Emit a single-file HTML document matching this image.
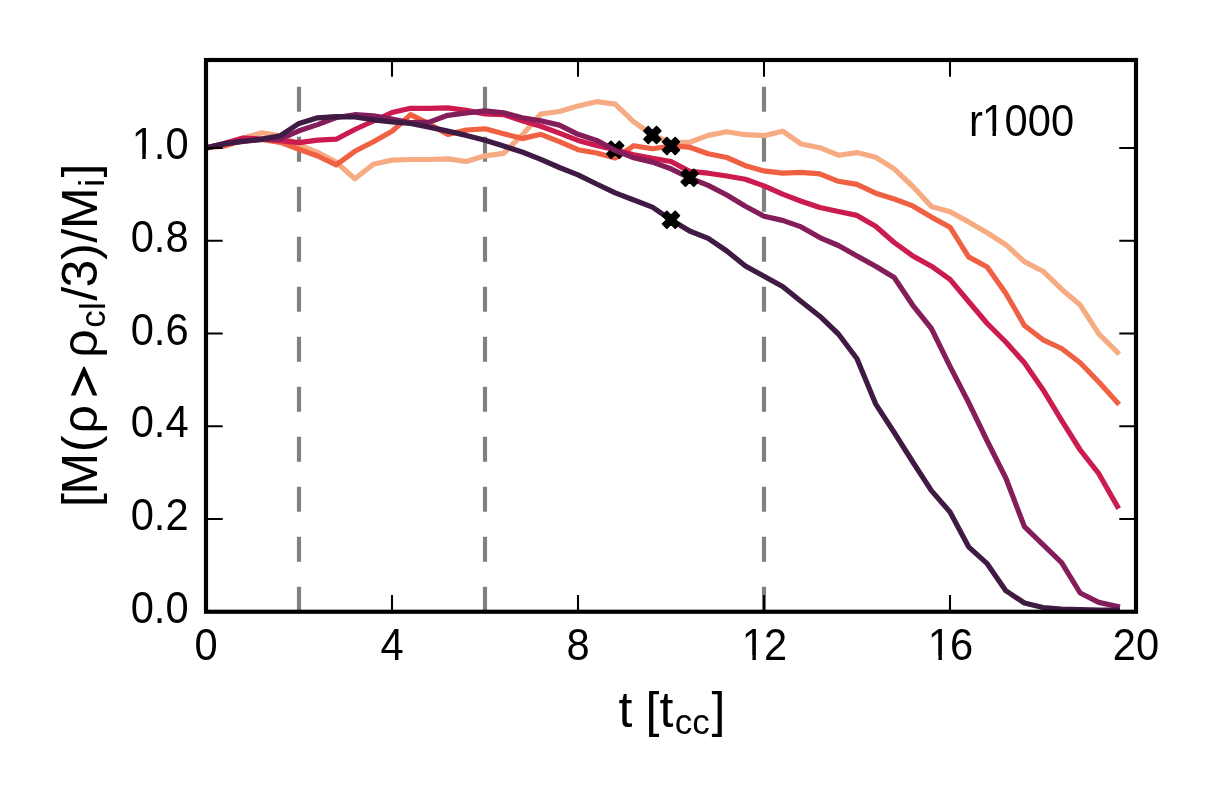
<!DOCTYPE html>
<html><head><meta charset="utf-8"><style>
html,body{margin:0;padding:0;background:#fff;}
svg{display:block;will-change:transform;}
text{font-family:"Liberation Sans",sans-serif;fill:#000;}
</style></head><body>
<svg width="1219" height="800" viewBox="0 0 1219 800">
<rect width="1219" height="800" fill="#fff"/>
<defs><clipPath id="ax"><rect x="206" y="60" width="930" height="551.75"/></clipPath><clipPath id="one"><rect x="-5" y="-50" width="40" height="45.4"/><rect x="10.6" y="-5" width="3.45" height="8"/></clipPath></defs>
<line x1="299.0" y1="611.75" x2="299.0" y2="60" stroke="#808080" stroke-width="4.17" stroke-dasharray="25 25"/>
<line x1="485.0" y1="611.75" x2="485.0" y2="60" stroke="#808080" stroke-width="4.17" stroke-dasharray="25 25"/>
<line x1="764.0" y1="611.75" x2="764.0" y2="60" stroke="#808080" stroke-width="4.17" stroke-dasharray="25 25"/>
<polyline clip-path="url(#ax)" points="206.0,148.0 224.6,144.0 243.2,138.0 261.8,132.8 280.4,135.7 299.0,144.9 317.6,152.3 336.2,162.1 354.8,178.8 373.4,164.2 392.0,160.1 410.6,159.5 429.2,159.5 447.8,158.9 466.4,161.5 485.0,155.8 503.6,153.4 522.2,134.9 540.8,114.0 559.4,111.5 578.0,106.0 596.6,101.7 615.2,104.1 633.8,121.9 652.4,135.0 671.0,142.8 689.6,142.2 708.2,135.4 726.8,131.8 745.4,134.7 764.0,135.7 782.6,131.2 801.2,144.0 819.8,147.7 838.4,155.2 857.0,152.6 875.6,157.2 894.2,168.9 912.8,186.5 931.4,206.4 950.0,211.8 968.6,221.9 987.2,232.7 1005.8,244.7 1024.4,261.6 1043.0,271.2 1061.6,289.2 1080.2,305.0 1098.8,333.8 1117.4,352.2" fill="none" stroke="#f6ab83" stroke-width="5.2" stroke-linejoin="round" stroke-linecap="square"/>
<polygon points="648.25,126.70 652.40,130.85 656.55,126.70 660.70,130.85 656.55,135.00 660.70,139.15 656.55,143.30 652.40,139.15 648.25,143.30 644.10,139.15 648.25,135.00 644.10,130.85" fill="#000" stroke="#000" stroke-width="1.9" stroke-linejoin="round"/>
<polyline clip-path="url(#ax)" points="206.0,148.0 224.6,146.0 243.2,140.0 261.8,139.4 280.4,142.4 299.0,149.2 317.6,156.0 336.2,164.8 354.8,151.3 373.4,141.8 392.0,131.3 410.6,114.7 429.2,123.9 447.8,134.4 466.4,130.0 485.0,128.8 503.6,133.7 522.2,138.6 540.8,134.3 559.4,141.7 578.0,149.7 596.6,153.0 615.2,158.1 633.8,145.7 652.4,148.8 671.0,146.0 689.6,147.2 708.2,153.7 726.8,157.5 745.4,165.7 764.0,170.9 782.6,173.2 801.2,172.4 819.8,173.9 838.4,181.3 857.0,184.4 875.6,193.2 894.2,199.0 912.8,205.9 931.4,217.1 950.0,227.2 968.6,256.9 987.2,267.0 1005.8,293.2 1024.4,325.5 1043.0,339.8 1061.6,348.5 1080.2,362.7 1098.8,382.0 1117.4,402.5" fill="none" stroke="#f06043" stroke-width="5.2" stroke-linejoin="round" stroke-linecap="square"/>
<polygon points="666.85,137.70 671.00,141.85 675.15,137.70 679.30,141.85 675.15,146.00 679.30,150.15 675.15,154.30 671.00,150.15 666.85,154.30 662.70,150.15 666.85,146.00 662.70,141.85" fill="#000" stroke="#000" stroke-width="1.9" stroke-linejoin="round"/>
<polyline clip-path="url(#ax)" points="206.0,148.0 224.6,143.3 243.2,138.1 261.8,139.0 280.4,140.6 299.0,142.6 317.6,140.2 336.2,139.2 354.8,129.5 373.4,121.0 392.0,112.5 410.6,108.3 429.2,108.3 447.8,107.9 466.4,110.4 485.0,114.0 503.6,114.6 522.2,120.8 540.8,126.3 559.4,133.1 578.0,140.4 596.6,145.4 615.2,149.8 633.8,154.7 652.4,158.4 671.0,161.5 689.6,171.4 708.2,173.2 726.8,176.0 745.4,179.2 764.0,185.9 782.6,194.1 801.2,201.2 819.8,207.5 838.4,211.5 857.0,215.4 875.6,226.2 894.2,242.5 912.8,255.9 931.4,266.2 950.0,279.3 968.6,301.5 987.2,323.5 1005.8,342.0 1024.4,362.7 1043.0,389.7 1061.6,420.4 1080.2,450.0 1098.8,473.7 1117.4,506.4" fill="none" stroke="#cb1b4f" stroke-width="5.2" stroke-linejoin="round" stroke-linecap="square"/>
<polygon points="611.05,141.50 615.20,145.65 619.35,141.50 623.50,145.65 619.35,149.80 623.50,153.95 619.35,158.10 615.20,153.95 611.05,158.10 606.90,153.95 611.05,149.80 606.90,145.65" fill="#000" stroke="#000" stroke-width="1.9" stroke-linejoin="round"/>
<polyline clip-path="url(#ax)" points="206.0,148.0 224.6,144.0 243.2,141.5 261.8,139.5 280.4,138.8 299.0,130.8 317.6,124.6 336.2,117.5 354.8,114.7 373.4,115.9 392.0,119.0 410.6,122.7 429.2,122.1 447.8,115.3 466.4,113.0 485.0,110.9 503.6,112.8 522.2,117.7 540.8,120.8 559.4,125.1 578.0,134.3 596.6,140.4 615.2,150.4 633.8,157.8 652.4,162.1 671.0,168.8 689.6,177.8 708.2,185.4 726.8,195.0 745.4,206.3 764.0,216.3 782.6,220.4 801.2,226.9 819.8,237.6 838.4,245.5 857.0,255.9 875.6,266.2 894.2,277.5 912.8,305.3 931.4,328.5 950.0,366.3 968.6,402.5 987.2,441.0 1005.8,478.0 1024.4,526.6 1043.0,544.6 1061.6,562.6 1080.2,593.0 1098.8,602.4 1117.4,606.4" fill="none" stroke="#841e5a" stroke-width="5.2" stroke-linejoin="round" stroke-linecap="square"/>
<polygon points="685.45,169.50 689.60,173.65 693.75,169.50 697.90,173.65 693.75,177.80 697.90,181.95 693.75,186.10 689.60,181.95 685.45,186.10 681.30,181.95 685.45,177.80 681.30,173.65" fill="#000" stroke="#000" stroke-width="1.9" stroke-linejoin="round"/>
<polyline clip-path="url(#ax)" points="206.0,148.0 224.6,143.7 243.2,141.2 261.8,139.1 280.4,135.7 299.0,123.4 317.6,117.8 336.2,116.6 354.8,117.0 373.4,119.8 392.0,121.8 410.6,123.5 429.2,127.1 447.8,131.1 466.4,135.4 485.0,140.3 503.6,146.0 522.2,152.0 540.8,159.3 559.4,167.5 578.0,174.9 596.6,184.0 615.2,192.9 633.8,200.0 652.4,207.2 671.0,219.8 689.6,231.0 708.2,238.3 726.8,251.0 745.4,266.0 764.0,276.3 782.6,286.6 801.2,301.6 819.8,316.2 838.4,334.0 857.0,358.8 875.6,403.8 894.2,432.5 912.8,462.0 931.4,490.6 950.0,512.0 968.6,546.8 987.2,563.7 1005.8,590.7 1024.4,603.0 1043.0,607.6 1061.6,609.1 1080.2,609.5 1098.8,610.0 1117.4,610.0" fill="none" stroke="#3f1b43" stroke-width="5.2" stroke-linejoin="round" stroke-linecap="square"/>
<polygon points="666.85,211.50 671.00,215.65 675.15,211.50 679.30,215.65 675.15,219.80 679.30,223.95 675.15,228.10 671.00,223.95 666.85,228.10 662.70,223.95 666.85,219.80 662.70,215.65" fill="#000" stroke="#000" stroke-width="1.9" stroke-linejoin="round"/>
<path d="M206.0,611.75v-16.7M206.0,60v16.7M392.0,611.75v-16.7M392.0,60v16.7M578.0,611.75v-16.7M578.0,60v16.7M764.0,611.75v-16.7M764.0,60v16.7M950.0,611.75v-16.7M950.0,60v16.7M1136.0,611.75v-16.7M1136.0,60v16.7M206,611.75h16.7M1136,611.75h-16.7M206,519.0h16.7M1136,519.0h-16.7M206,426.25h16.7M1136,426.25h-16.7M206,333.49999999999994h16.7M1136,333.49999999999994h-16.7M206,240.75h16.7M1136,240.75h-16.7M206,148.0h16.7M1136,148.0h-16.7" stroke="#000" stroke-width="2.08" fill="none"/>
<rect x="206" y="60" width="930" height="551.75" fill="none" stroke="#000" stroke-width="4.17" stroke-linejoin="miter"/>
<text transform="translate(130.68,622.75) scale(1,1.05)" font-size="41.67">0</text><text transform="translate(153.85,622.75) scale(1,1.05)" font-size="41.67">.</text><text transform="translate(165.43,622.75) scale(1,1.05)" font-size="41.67">0</text>
<text transform="translate(130.68,530.00) scale(1,1.05)" font-size="41.67">0</text><text transform="translate(153.85,530.00) scale(1,1.05)" font-size="41.67">.</text><text transform="translate(165.43,530.00) scale(1,1.05)" font-size="41.67">2</text>
<text transform="translate(130.68,437.25) scale(1,1.05)" font-size="41.67">0</text><text transform="translate(153.85,437.25) scale(1,1.05)" font-size="41.67">.</text><text transform="translate(165.43,437.25) scale(1,1.05)" font-size="41.67">4</text>
<text transform="translate(130.68,344.50) scale(1,1.05)" font-size="41.67">0</text><text transform="translate(153.85,344.50) scale(1,1.05)" font-size="41.67">.</text><text transform="translate(165.43,344.50) scale(1,1.05)" font-size="41.67">6</text>
<text transform="translate(130.68,251.75) scale(1,1.05)" font-size="41.67">0</text><text transform="translate(153.85,251.75) scale(1,1.05)" font-size="41.67">.</text><text transform="translate(165.43,251.75) scale(1,1.05)" font-size="41.67">8</text>
<text transform="translate(131.68,159.00) scale(1,1.05)" font-size="41.67" clip-path="url(#one)">1</text><text transform="translate(153.85,159.00) scale(1,1.05)" font-size="41.67">.</text><text transform="translate(165.43,159.00) scale(1,1.05)" font-size="41.67">0</text>
<text transform="translate(194.41,660.20) scale(1,1.05)" font-size="41.67">0</text>
<text transform="translate(380.42,660.20) scale(1,1.05)" font-size="41.67">4</text>
<text transform="translate(566.41,660.20) scale(1,1.05)" font-size="41.67">8</text>
<text transform="translate(741.83,660.20) scale(1,1.05)" font-size="41.67" clip-path="url(#one)">1</text><text transform="translate(764.00,660.20) scale(1,1.05)" font-size="41.67">2</text>
<text transform="translate(927.83,660.20) scale(1,1.05)" font-size="41.67" clip-path="url(#one)">1</text><text transform="translate(950.00,660.20) scale(1,1.05)" font-size="41.67">6</text>
<text transform="translate(1112.83,660.20) scale(1,1.05)" font-size="41.67">2</text><text transform="translate(1136.00,660.20) scale(1,1.05)" font-size="41.67">0</text>
<text transform="translate(969.00,135.90) scale(1,1.045)" font-size="41.67">r</text><text transform="translate(981.90,135.90) scale(1,1.045)" font-size="41.67" clip-path="url(#one)">1</text><text transform="translate(1004.55,135.90) scale(1,1.045)" font-size="41.67">0</text><text transform="translate(1027.72,135.90) scale(1,1.045)" font-size="41.67">0</text><text transform="translate(1050.89,135.90) scale(1,1.045)" font-size="41.67">0</text>
<text x="618.4" y="727.0" font-size="50">t</text>
<text x="645.4" y="727.0" font-size="50">[</text>
<text x="659.6" y="727.0" font-size="50">t</text>
<text x="674.65" y="734.3" font-size="35">cc</text>
<text x="711.4" y="727.0" font-size="50">]</text>
<g transform="translate(97.2,505) rotate(-90)"><text x="-2.1" y="0" font-size="50">[</text><text x="10.6" y="0" font-size="50">M</text><text x="53.1" y="0" font-size="50">(</text><text x="71.6" y="0" font-size="50">ρ</text><text x="147.2" y="0" font-size="50">ρ</text><text x="177.3" y="7.5" font-size="35">c</text><text x="194.9" y="7.5" font-size="35">l</text><text x="204.2" y="0" font-size="50">/</text><text x="217.4" y="0" font-size="50">3</text><text x="245.35" y="0" font-size="50">)</text><text x="262.2" y="0" font-size="50">/</text><text x="276" y="0" font-size="50">M</text><text x="318.2" y="7.0" font-size="35">i</text><text x="327.5" y="0" font-size="50">]</text></g>
<polygon points="70.8,395.4 83.3,366.8 84.8,366.8 97.3,395.4 92.7,395.4 84.05,375.8 75.4,395.4" fill="#000"/>
</svg>
</body></html>
